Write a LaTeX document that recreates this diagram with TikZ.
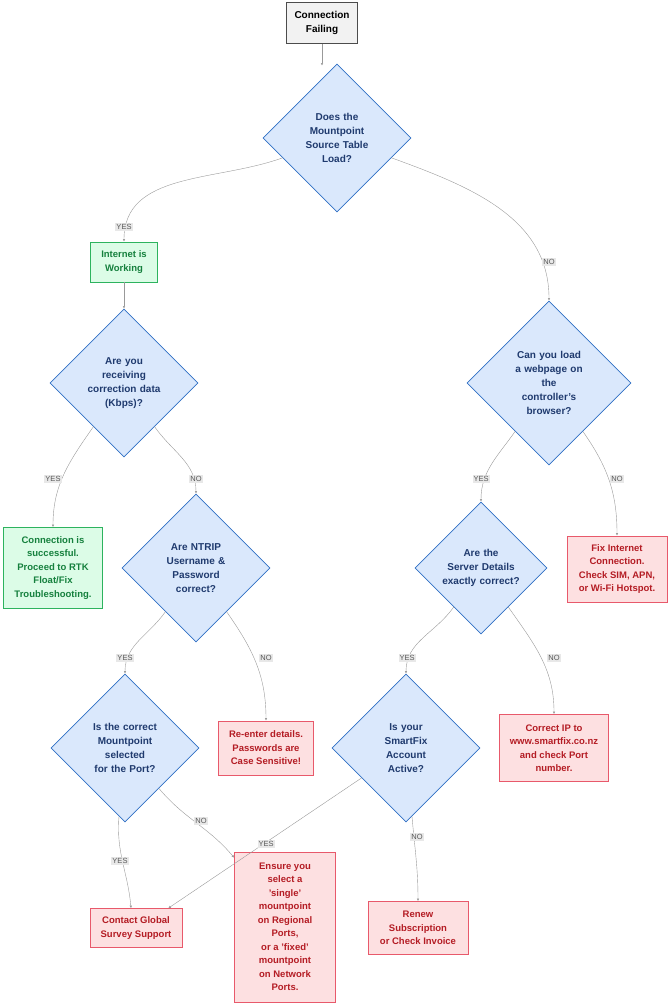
\documentclass[tikz,border=0pt]{standalone}
\usepackage{fontspec}
\setmainfont{Liberation Sans}
\usetikzlibrary{shapes.geometric,arrows.meta}
\definecolor{qfill}{HTML}{DAE8FC}
\definecolor{qline}{HTML}{2F6FC4}
\definecolor{qtext}{HTML}{1F3A6E}
\definecolor{bfill}{HTML}{FDE0E1}
\definecolor{bline}{HTML}{E8596B}
\definecolor{btext}{HTML}{B41C24}
\definecolor{gfill}{HTML}{DCFCE7}
\definecolor{gline}{HTML}{2DB35E}
\definecolor{gtext}{HTML}{15803D}
\tikzset{
  question/.style={diamond,aspect=1,inner sep=0pt,draw=qline,fill=qfill,thick,text=qtext,
    font=\bfseries\fontsize{10}{14}\selectfont,align=center,text width=78pt},
  bad/.style={rectangle,draw=bline,fill=bfill,thick,text=btext,
    font=\bfseries\fontsize{9.5}{13.5}\selectfont,align=center},
  good/.style={rectangle,draw=gline,fill=gfill,thick,text=gtext,
    font=\bfseries\fontsize{9.5}{13.5}\selectfont,align=center},
  lbl/.style={fill=black!9,text=black!65,font=\fontsize{7.5}{8}\selectfont,inner sep=1pt},
  flow/.style={draw=black!40,-{Latex[length=2.5pt,width=2.5pt]},black!40}
}
\begin{document}
\begin{tikzpicture}[x=1pt,y=1pt]
	\useasboundingbox (0,0) rectangle (670,-1006);

	% Start
	\node[rectangle,draw=black!70,fill=black!5,very thick,font=\bfseries\fontsize{10}{14}\selectfont,
		align=center,minimum width=71pt,minimum height=41pt] (start) at (322,-23) {Connection\\Failing};

	% Questions
	\node[question,minimum size=148pt] (table) at (337,-138) {Does the\\Mountpoint\\Source Table\\Load?};
	\node[question,minimum size=148pt] (data) at (124,-383) {Are you\\receiving\\correction data\\(Kbps)?};
	\node[question,minimum size=164pt] (web) at (549,-383) {Can you load\\a webpage on\\the\\controller's\\browser?};
	\node[question,minimum size=148pt] (ntrip) at (196,-568) {Are NTRIP\\Username \&\\Password\\correct?};
	\node[question,minimum size=132pt] (server) at (481,-568) {Are the\\Server Details\\exactly correct?};
	\node[question,minimum size=148pt] (mount) at (125,-748) {Is the correct\\Mountpoint\\selected\\for the Port?};
	\node[question,minimum size=148pt] (account) at (406,-748) {Is your\\SmartFix\\Account\\Active?};

	% Outcomes
	\node[good,minimum width=67pt,minimum height=40pt] (internet) at (124,-262) {Internet is\\Working};
	\node[good,minimum width=99pt,minimum height=81pt] (success) at (53,-568) {Connection is\\successful.\\Proceed to RTK\\Float/Fix\\Troubleshooting.};
	\node[bad,minimum width=100pt,minimum height=66pt] (fixnet) at (617,-569) {Fix Internet\\Connection.\\Check SIM, APN,\\or Wi-Fi Hotspot.};
	\node[bad,minimum width=95pt,minimum height=54pt] (reenter) at (266,-748) {Re-enter details.\\Passwords are\\Case Sensitive!};
	\node[bad,minimum width=109pt,minimum height=67pt] (correctip) at (554,-748) {Correct IP to\\www.smartfix.co.nz\\and check Port\\number.};
	\node[bad,minimum width=92pt,minimum height=39pt] (support) at (136,-928) {Contact Global\\Survey Support};
	\node[bad,minimum width=101pt,minimum height=150pt] (ensure) at (285,-927) {Ensure you\\select a\\'single'\\mountpoint\\on Regional\\Ports,\\or a 'fixed'\\mountpoint\\on Network\\Ports.};
	\node[bad,minimum width=100pt,minimum height=53pt] (renew) at (418,-928) {Renew\\Subscription\\or Check Invoice};

	% Connectors
	\coordinate (tabletop) at ([yshift=-2pt]start |- table.north);
	\draw[flow] (start) -- (tabletop);
	\draw[flow] (table) to[out=200,in=90] (internet);
	\draw[flow] (table) to[out=-20,in=90] (web);
	\draw[flow] (internet) -- (data);
	\draw[flow] (data) to[out=235,in=90] (success);
	\draw[flow] (data) to[out=-55,in=90] (ntrip);
	\draw[flow] (web) to[out=235,in=90] (server);
	\draw[flow] (web) to[out=-55,in=90] (fixnet);
	\draw[flow] (ntrip) to[out=235,in=90] (mount);
	\draw[flow] (ntrip) to[out=-55,in=90] (reenter);
	\draw[flow] (server) to[out=235,in=90] (account);
	\draw[flow] (server) to[out=-55,in=90] (correctip);
	\draw[flow] (mount) to[out=265,in=95] ([xshift=-5pt]support.north);
	\draw[flow] (mount) to[out=-50,in=130] ([yshift=-6pt]ensure.north west);
	\draw[flow] (account) -- ([xshift=-14pt]support.north east);
	\draw[flow] (account) to[out=-85,in=90] (renew);

	% Labels
	\node[lbl] (l1) at (124,-227) {YES};
	\node[lbl] (l2) at (549,-262) {NO};
	\node[lbl] (l3) at (53,-479) {YES};
	\node[lbl] (l4) at (196,-479) {NO};
	\node[lbl] (l5) at (481,-479) {YES};
	\node[lbl] (l6) at (617,-479) {NO};
	\node[lbl] (l7) at (125,-658) {YES};
	\node[lbl] (l8) at (266,-658) {NO};
	\node[lbl] (l9) at (407,-658) {YES};
	\node[lbl] (l10) at (554,-658) {NO};
	\node[lbl] (l11) at (120,-861) {YES};
	\node[lbl] (l12) at (201,-821) {NO};
	\node[lbl] (l13) at (266,-844) {YES};
	\node[lbl] (l14) at (417,-837) {NO};
\end{tikzpicture}
\end{document}
